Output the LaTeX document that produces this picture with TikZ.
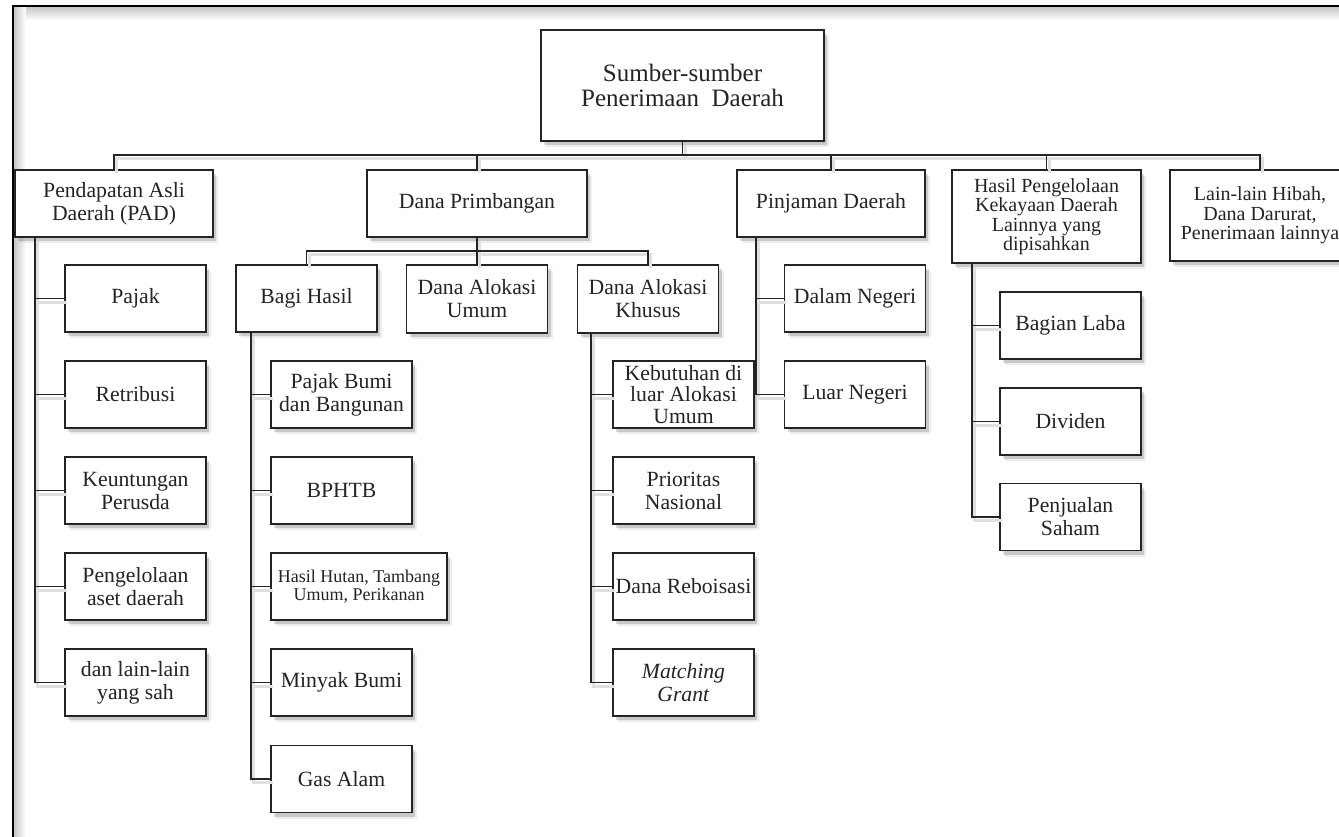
\documentclass[tikz,border=0pt]{standalone}
\usepackage{fontspec}
\setmainfont{Liberation Serif}
\usetikzlibrary{shadows}
\definecolor{ink}{HTML}{242424}
\tikzset{
  box/.style={draw=ink, line width=1.6pt, fill=white, align=center, inner sep=1pt,
    text=ink, font=\fontsize{21.7}{23}\selectfont,
    drop shadow={shadow xshift=5pt, shadow yshift=-6pt, fill=black, opacity=0.07},
    drop shadow={shadow xshift=3pt, shadow yshift=-4pt, fill=black, opacity=0.15}},
  kid/.style={box, minimum width=141pt, minimum height=67pt},
  conn/.style={draw=ink, line width=1.6pt,
    preaction={draw=black!12, line width=3pt, transform canvas={shift={(2.5pt,-3.5pt)}}}},
  small/.style={font=\fontsize{20}{19.5}\selectfont},
}
\begin{document}
\begin{tikzpicture}[x=1pt,y=-1pt]
\useasboundingbox (0,0) rectangle (1339,836);
\clip (0,0) rectangle (1339,836);
\fill[white] (0,0) rectangle (1339,836);
% outer frame with inner shadow
\shade[top color=black!22, bottom color=white] (14,7) rectangle (1339,20);
\shade[left color=black!22, right color=white] (14,7) rectangle (26,836);
\draw[black, line width=2.6pt] (13,840) -- (13,6) -- (1345,6);

% level 0
\node[box, minimum width=283pt, minimum height=111pt, font=\fontsize{25}{25.5}\selectfont]
  (top) at (682.5,85.5) {Sumber-sumber\\Penerimaan\ \ Daerah};

% level 1
\node[box, minimum width=198pt, minimum height=67pt] (pad) at (114,203.5) {Pendapatan Asli\\Daerah (PAD)};
\node[box, minimum width=220pt, minimum height=67pt] (dp) at (477,203.5) {Dana Primbangan};
\node[box, minimum width=188pt, minimum height=67pt] (pinj) at (831,203.5) {Pinjaman Daerah};
\node[box, small, minimum width=189pt, minimum height=93pt] (hpk) at (1046.5,216.5) {Hasil Pengelolaan\\Kekayaan Daerah\\Lainnya yang\\dipisahkan};
\node[box, small, minimum width=180pt, minimum height=91pt] (lain) at (1260,215.5) {Lain-lain Hibah,\\Dana Darurat,\\Penerimaan lainnya};

% PAD children
\node[kid] (pajak) at (135.5,298.5) {Pajak};
\node[kid] (retribusi) at (135.5,394.5) {Retribusi};
\node[kid] (untung) at (135.5,490.5) {Keuntungan\\Perusda};
\node[kid] (aset) at (135.5,586.5) {Pengelolaan\\aset daerah};
\node[kid] (sah) at (135.5,682.5) {dan lain-lain\\yang sah};

% Dana Primbangan children
\node[kid] (bagi) at (306.5,298.5) {Bagi Hasil};
\node[kid, minimum height=68pt] (dau) at (477,299) {Dana Alokasi\\Umum};
\node[kid, minimum height=68pt] (dak) at (648,299) {Dana Alokasi\\Khusus};

% Bagi Hasil children
\node[kid] (pbb) at (341.5,394.5) {Pajak Bumi\\dan Bangunan};
\node[kid] (bphtb) at (341.5,490.5) {BPHTB};
\node[kid, minimum width=176pt, font=\fontsize{18}{18.5}\selectfont] (hutan) at (359,586.5) {Hasil Hutan, Tambang\\Umum, Perikanan};
\node[kid] (minyak) at (341.5,682.5) {Minyak Bumi};
\node[kid] (gas) at (341.5,779) {Gas Alam};

% DAK children
\node[kid, font=\fontsize{21.7}{21.7}\selectfont] (butuh) at (683.5,394.5) {Kebutuhan di\\luar Alokasi\\Umum};
\node[kid] (prior) at (683.5,490.5) {Prioritas\\Nasional};
\node[kid] (rebo) at (683.5,586.5) {Dana Reboisasi};
\node[kid] (match) at (683.5,682.5) {\textit{Matching}\\\textit{Grant}};

% Pinjaman children
\node[kid] (dalam) at (855,298.5) {Dalam Negeri};
\node[kid] (luar) at (855,394.5) {Luar Negeri};

% HPK children
\node[kid] (laba) at (1070.5,325.5) {Bagian Laba};
\node[kid] (dividen) at (1070.5,421.5) {Dividen};
\node[kid] (saham) at (1070.5,517) {Penjualan\\Saham};

% connectors
\coordinate (bus) at (0,155);
\coordinate (dpbus) at (0,251);
\coordinate (padx) at (35,0);
\coordinate (bagix) at (251,0);
\coordinate (dakx) at (591,0);
\coordinate (pinjx) at (756,0);
\coordinate (hpkx) at (972,0);

\draw[conn] (top.south) -- (top.south |- bus);
\draw[conn] (pad.north) |- (lain.north |- bus) -- (lain.north);
\foreach \n in {dp,pinj,hpk} \draw[conn] (\n.north) -- (\n.north |- bus);

\draw[conn] (dp.south) -- (dp.south |- dpbus);
\draw[conn] (bagi.north) |- (dak.north |- dpbus) -- (dak.north);
\draw[conn] (dau.north) -- (dau.north |- dpbus);

\draw[conn] (pad.south -| padx) |- (sah.west);
\foreach \n in {pajak,retribusi,untung,aset} \draw[conn] (\n.west) -- (\n.west -| padx);

\draw[conn] (bagi.south -| bagix) |- (gas.west);
\foreach \n in {pbb,bphtb,hutan,minyak} \draw[conn] (\n.west) -- (\n.west -| bagix);

\draw[conn] (dak.south -| dakx) |- (match.west);
\foreach \n in {butuh,prior,rebo} \draw[conn] (\n.west) -- (\n.west -| dakx);

\draw[conn] (pinj.south -| pinjx) |- (luar.west);
\draw[conn] (dalam.west) -- (dalam.west -| pinjx);

\draw[conn] (hpk.south -| hpkx) |- (saham.west);
\foreach \n in {laba,dividen} \draw[conn] (\n.west) -- (\n.west -| hpkx);
\end{tikzpicture}
\end{document}
